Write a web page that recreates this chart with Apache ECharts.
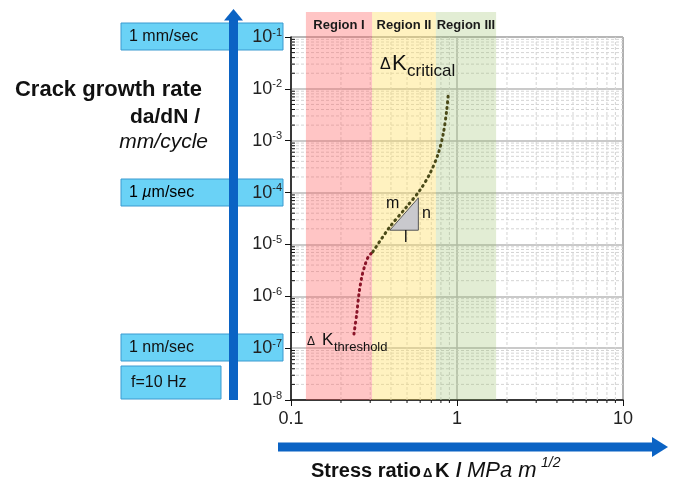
<!DOCTYPE html>
<html>
<head>
<meta charset="utf-8">
<script src="https://cdn.jsdelivr.net/npm/echarts@6/dist/echarts.min.js"></script>
<style>
  html, body { margin: 0; padding: 0; background: #fff; }
  #chart { width: 675px; height: 483px; }
</style>
</head>
<body>
<div id="chart"></div>
<script>
// region bands along dK
const regionNames = ['Region I', 'Region II', 'Region III'];
const regionStart = [0.123, 0.308, 0.746];
const regionEnd = [0.308, 0.746, 1.72];
const regionColors = ['rgba(255, 95, 95, 0.36)', 'rgba(255, 222, 90, 0.38)', 'rgba(150, 190, 100, 0.28)'];

// threshold part of the curve (region I)
const thresholdK = [0.2395, 0.249, 0.257, 0.267, 0.279, 0.292, 0.311];
const thresholdRate = [1.87e-7, 4.68e-7, 1.14e-6, 2.38e-6, 3.99e-6, 5.77e-6, 7.2e-6];

// Paris law part up to critical
const parisK = [0.311, 0.394, 0.497, 0.598, 0.687, 0.771, 0.827, 0.867, 0.887];
const parisRate = [7.2e-6, 2.18e-5, 5.3e-5, 1.11e-4, 2.33e-4, 5.66e-4, 1.38e-3, 3.87e-3, 8.1e-3];

// slope triangle
const triK = [0.394, 0.585, 0.585];
const triRate = [1.88e-5, 7.9e-5, 1.88e-5];

// minor grid values
const xMinor = [0.2, 0.3, 0.4, 0.5, 0.6, 0.7, 0.8, 0.9, 2, 3, 4, 5, 6, 7, 8, 9];
const yMinor = [];
for (let e = -8; e <= -2; e++) {
  for (let k = 2; k <= 9; k++) yMinor.push(k * Math.pow(10, e));
}

const chart = echarts.init(document.getElementById('chart'));
const font = 'Liberation Sans, Arial, sans-serif';

const boxStyle = { fill: '#6ad2f6', stroke: '#3a9ad0', lineWidth: 1 };
const blue = '#0b63c4';

const box = (x, y, w, h) => ({ type: 'rect', z: -2, shape: { x, y, width: w, height: h }, style: boxStyle });
const txt = (x, y, text, size, extra) => ({
  type: 'text', z: 10, x, y,
  style: Object.assign({ text, fontSize: size, fontFamily: font, fill: '#111', textVerticalAlign: 'middle' }, extra || {})
});

chart.setOption({
  animation: false,
  grid: [
    { left: 291, right: 52, top: 12, bottom: 83 },
    { left: 291, right: 52, top: 37, bottom: 83, show: true, borderColor: '#333', borderWidth: 1, backgroundColor: 'transparent' }
  ],
  xAxis: [
    { type: 'log', gridIndex: 0, min: 0.1, max: 10, show: false },
    {
      type: 'log', gridIndex: 1, min: 0.1, max: 10, logBase: 10,
      axisLine: { lineStyle: { color: '#111', width: 1.5 } },
      axisTick: { length: 6, lineStyle: { color: '#111' } },
      axisLabel: {
        margin: 10, fontSize: 18, color: '#222', fontFamily: font,
        formatter: (v) => String(Number(v.toPrecision(3)))
      },
      splitLine: { lineStyle: { color: '#b8b8b8', width: 1.5 } }
    }
  ],
  yAxis: [
    { type: 'value', gridIndex: 0, min: 0, max: 1, show: false },
    {
      type: 'log', gridIndex: 1, min: 1e-8, max: 1e-1, logBase: 10, interval: 1,
      axisLine: { lineStyle: { color: '#111', width: 1.5 } },
      axisTick: { length: 6, lineStyle: { color: '#111' } },
      axisLabel: {
        margin: 9, color: '#222', fontFamily: font,
        formatter: (v) => '{b|10}{s|' + Math.round(Math.log10(v)) + '}',
        rich: {
          b: { fontSize: 18, fontFamily: font, color: '#222' },
          s: { fontSize: 11, fontFamily: font, color: '#222', padding: [0, 0, 9, 0] }
        }
      },
      splitLine: { lineStyle: { color: '#b8b8b8', width: 1.5 } }
    }
  ],
  series: [
    {
      // vertical minor grid + ticks
      type: 'custom', xAxisIndex: 1, yAxisIndex: 1, z: 1, silent: true,
      data: xMinor.map((v) => [v, 1e-8]),
      renderItem: (params, api) => {
        const p0 = api.coord([api.value(0), 1e-8]);
        const p1 = api.coord([api.value(0), 1e-1]);
        return {
          type: 'group', children: [
            { type: 'line', shape: { x1: p0[0], y1: p0[1], x2: p1[0], y2: p1[1] }, style: { stroke: '#d4d4d4', lineWidth: 1, lineDash: [3, 2] } },
            { type: 'line', shape: { x1: p0[0], y1: p0[1], x2: p0[0], y2: p0[1] + 3 }, style: { stroke: '#111', lineWidth: 1 } }
          ]
        };
      }
    },
    {
      // horizontal minor grid + ticks
      type: 'custom', xAxisIndex: 1, yAxisIndex: 1, z: 1, silent: true,
      data: yMinor.map((v) => [0.1, v]),
      renderItem: (params, api) => {
        const p0 = api.coord([0.1, api.value(1)]);
        const p1 = api.coord([10, api.value(1)]);
        return {
          type: 'group', children: [
            { type: 'line', shape: { x1: p0[0], y1: p0[1], x2: p1[0], y2: p1[1] }, style: { stroke: '#d4d4d4', lineWidth: 1, lineDash: [3, 2] } },
            { type: 'line', shape: { x1: p0[0], y1: p0[1], x2: p0[0] + 4, y2: p0[1] }, style: { stroke: '#111', lineWidth: 1 } }
          ]
        };
      }
    },
    {
      // region bands with headings
      type: 'custom', xAxisIndex: 0, yAxisIndex: 0, z: 2, silent: true,
      data: regionNames.map((n, i) => [regionStart[i], regionEnd[i], i]),
      renderItem: (params, api) => {
        const i = api.value(2);
        const a = api.coord([api.value(0), 1]);
        const b = api.coord([api.value(1), 0]);
        return {
          type: 'group', children: [
            { type: 'rect', shape: { x: a[0], y: a[1], width: b[0] - a[0], height: b[1] - a[1] }, style: { fill: regionColors[i] } },
            {
              type: 'text', x: (a[0] + b[0]) / 2, y: a[1] + 13,
              style: { text: regionNames[i], fontSize: 13, fontWeight: 'bold', fontFamily: font, fill: '#1a1a1a', align: 'center', verticalAlign: 'middle' }
            }
          ]
        };
      }
    },
    {
      type: 'line', xAxisIndex: 1, yAxisIndex: 1, z: 3, smooth: 0.3, showSymbol: false, silent: true,
      data: thresholdK.map((k, i) => [k, thresholdRate[i]]),
      lineStyle: { color: '#8a1428', width: 3, type: [1, 4.5], cap: 'round' }
    },
    {
      type: 'line', xAxisIndex: 1, yAxisIndex: 1, z: 3, smooth: 0.3, showSymbol: false, silent: true,
      data: parisK.map((k, i) => [k, parisRate[i]]),
      lineStyle: { color: '#4a4a18', width: 3, type: [1, 4.5], cap: 'round' }
    },
    {
      type: 'custom', xAxisIndex: 1, yAxisIndex: 1, z: 3, silent: true,
      data: [[triK[0], triRate[0]]],
      renderItem: (params, api) => ({
        type: 'polygon',
        shape: { points: triK.map((k, i) => api.coord([k, triRate[i]])) },
        style: { fill: '#c9c9cd', stroke: '#555', lineWidth: 1 }
      })
    }
  ],
  graphic: [
    box(121, 23, 162, 27),
    box(121, 179, 162, 27),
    box(121, 334, 162, 27),
    box(121, 366, 100, 33),
    { type: 'rect', z: -1, shape: { x: 229, y: 20, width: 9, height: 380 }, style: { fill: blue } },
    { type: 'polygon', z: -1, shape: { points: [[224, 20.5], [243, 20.5], [233.5, 9]] }, style: { fill: blue } },
    { type: 'rect', z: -1, shape: { x: 278, y: 442.5, width: 375, height: 9 }, style: { fill: blue } },
    { type: 'polygon', z: -1, shape: { points: [[652, 437], [652, 457], [668, 447]] }, style: { fill: blue } },
    txt(129, 37, '1 mm/sec', 16),
    { type: 'text', z: 10, x: 129, y: 193, style: { text: '{a|1 }{m|µ}{a|m/sec}', textVerticalAlign: 'middle', rich: { a: { fontSize: 16, fontFamily: font, color: '#111' }, m: { fontSize: 16, fontFamily: font, fontStyle: 'italic', color: '#111' } } } },
    txt(129, 348, '1 nm/sec', 16),
    txt(131, 383, 'f=10 Hz', 16),
    txt(202, 90, 'Crack growth rate', 22, { fontWeight: 'bold', textAlign: 'right' }),
    txt(200, 117, 'da/dN /', 21, { fontWeight: 'bold', textAlign: 'right' }),
    txt(208, 142, 'mm/cycle', 21, { fontStyle: 'italic', textAlign: 'right' }),
    txt(311, 471, 'Stress ratio', 20, { fontWeight: 'bold' }),
    txt(423, 473, 'Δ', 13, { fontWeight: 'bold' }),
    txt(435, 471, 'K', 20, { fontWeight: 'bold' }),
    txt(456, 471, '/', 20, { fontWeight: 'bold' }),
    txt(467, 471, 'MPa m', 22, { fontStyle: 'italic' }),
    txt(541, 463, '1/2', 14, { fontStyle: 'italic' }),
    txt(380, 65, 'Δ', 16),
    txt(392, 64, 'K', 22),
    txt(407, 71, 'critical', 17),
    txt(307, 342, 'Δ', 12),
    txt(322, 340, 'K', 17),
    txt(334, 347, 'threshold', 13),
    txt(386, 204, 'm', 16),
    txt(422, 214, 'n', 16),
    txt(404, 238, 'l', 16)
  ]
});
</script>
</body>
</html>
